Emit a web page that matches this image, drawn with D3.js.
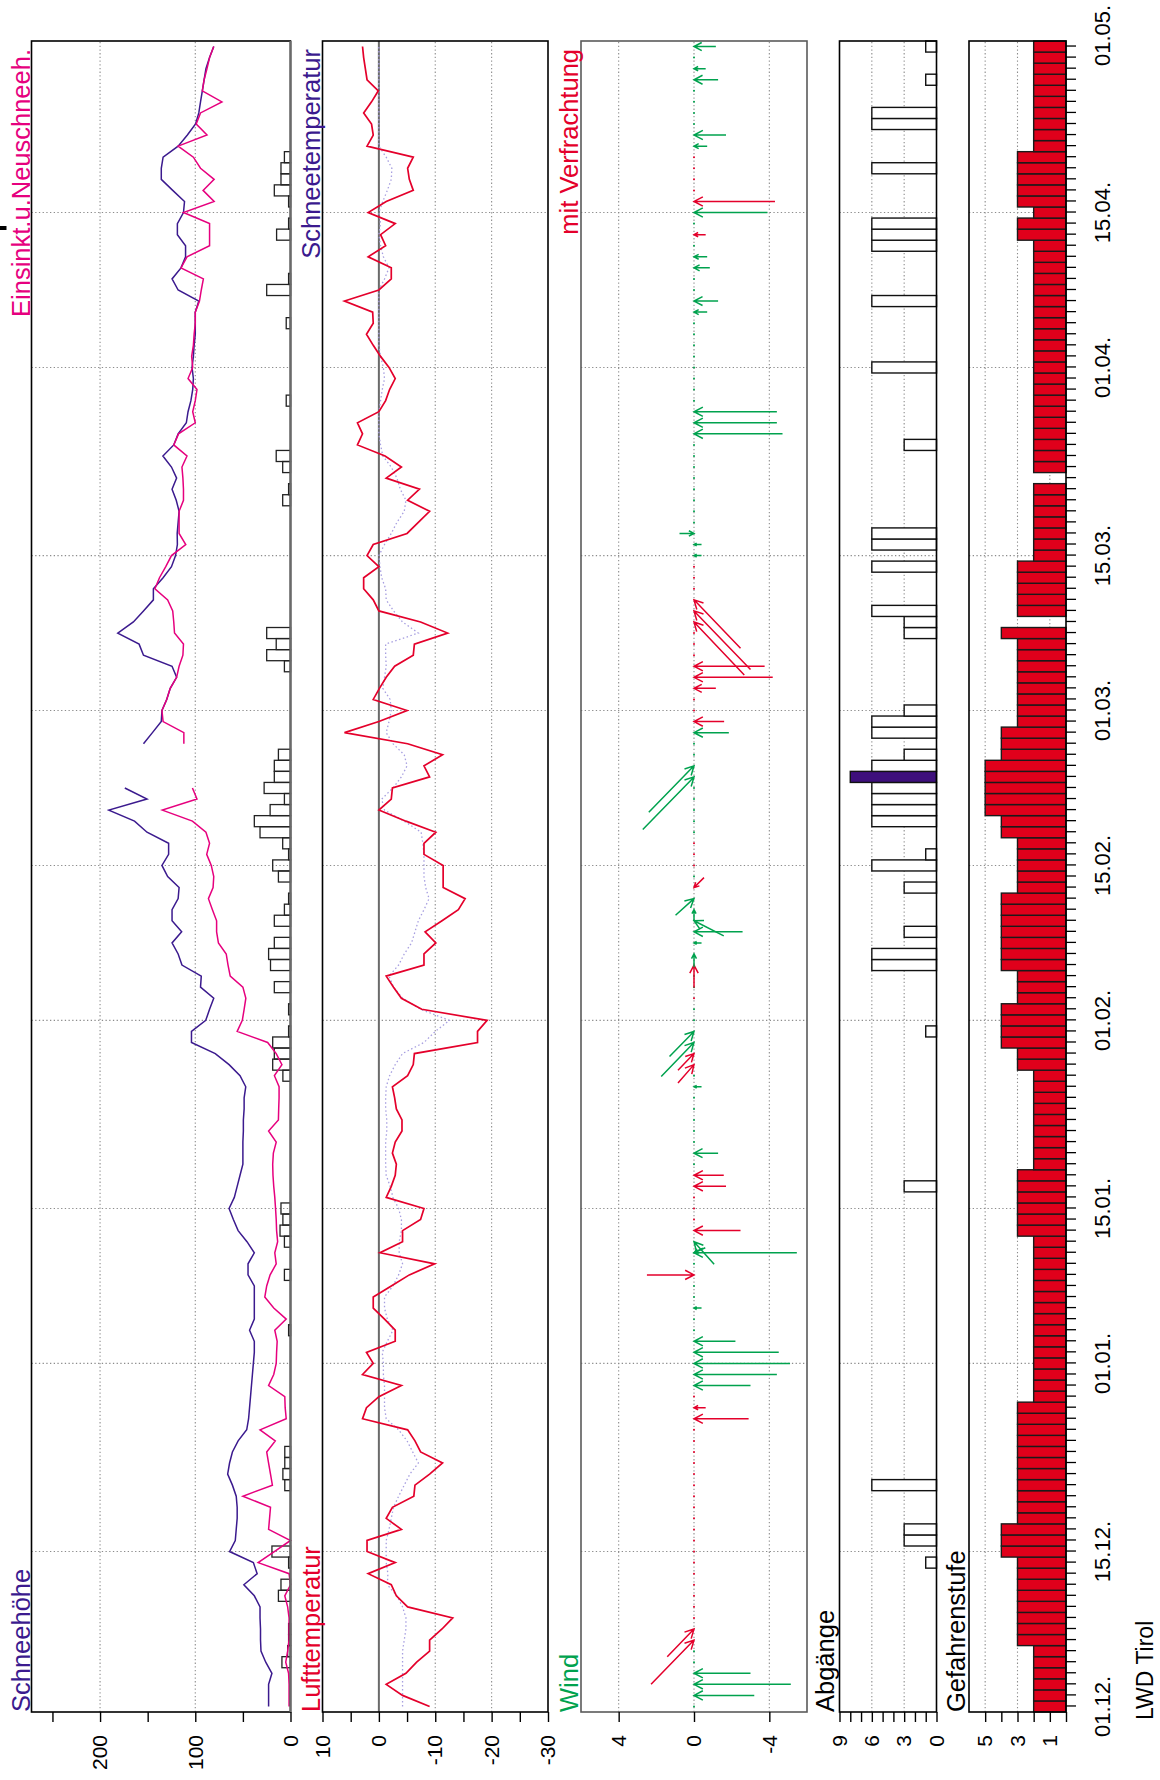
<!DOCTYPE html>
<html>
<head>
<meta charset="utf-8">
<title>LWD Tirol Saison</title>
<script src="https://cdn.jsdelivr.net/npm/d3@7/dist/d3.min.js"></script>
<style>
  body { margin: 0; background: #fff; }
  text { font-family: 'Liberation Sans', Arial, sans-serif; }
</style>
</head>
<body>
<svg width="1160" height="1780"></svg>
<script>
// --- Daten: ein Wert pro Tag, Index 0 = 01.12. bis 150 = 30.04.
const dateIdx    = [0, 14, 31, 45, 62, 76, 90, 104, 121, 135, 151];
const dateLabels = ['01.12.', '15.12.', '01.01.', '15.01.', '01.02.', '15.02.', '01.03.', '15.03.', '01.04.', '15.04.', '01.05.'];

// Schneehöhe (cm)
const snowDepth = [
  23,23,23,19.5,26,31,31.5,31.5,32,32, 38,49,35,39,64,58,57,56,56,57,
  61,66,64,61,55,46,44,43,42,41, 40,39,38,38,43,38,38,38,38,44.6,
  44.6,38,45.7,55,60,64.5,59,56,53,50, 50,50,49.5,49.5,48.7,48.7,47,53,64.5,79,
  104,104,89,85,80.6,94.5,93.7,114,118,124.4, 114.3,124.4,124.4,118,117,129,135,128,128,150.7,
  163.8,190.8,150.7,174,null,null,null,154.4,145,135.7, 135,130,126.3,119.6,124.4,154.4,159,181.4,165,154.4,
  144,144,133.8,125,120.7,118.8,119,118,117,120, 124.4,119.6,125,134,122.6,118,109.4,107.6,104.6,102.7,
  102,103.4,102,101.2,100,100,100,96.3,118,124.4, 115,110.2,110.2,118.8,118.8,112.4,111.3,123.7,135.7,135.7,
  133.8,118,108.3,99.7,96.3,94.5,92.6,90.7,88.8,85, 80.6
];
// Einsinktiefe (cm)
const sinkDepth = [
  1.5,1.5,1.5,2,5,3,1.5,1.5,1.5,3, 6,0,1.5,34,17,0,23,22,21,50,
  19,21,23,25,16,32,4.5,5.6,6,23, 17.6,15,14.6,14,16.5,4.5,17.6,27,25,21.4,
  15,16.5,13.5,14.6,15,15.7,16.5,17.6,18.4,18.7, 18,15,23,12.7,12.4,12,12,16.9,9,15,
  24,56,50.6,48.7,46.9,50,63.3,65.6,67.5,75.7, 77.6,77.6,82,86.2,81.3,80.6,83.2,88,85,88.8,
  103,134.6,98.2,103,null,null,null,112,112,133.8, 135,130,126.3,119.6,117,113,112.4,121.8,122.6,123.7,
  129,142.4,137.6,131,125,110,117,117,117,112.4, 112.4,113,114,108.7,122.6,117.6,100,102.7,100,98.2,
  107.6,102.7,103.8,102,101.2,100,100,95.6,93.7,91.5, 115,108.7,85,85,85,112.4,80.2,91.8,80.2,94.5,
  102,118,87.7,99,94.5,72,92.6,90.7,87.7,85, 80.6
];
// Neuschnee (cm)
const newSnow = [
  0,0,0,0,9,3,2,2,0,0, 12.7,10,0,2,19.5,0,0,0,0,0,
  6,8,6,6,0,0,0,0,0,0, 0,0,0,0,2,0,0,0,0,6.4,
  0,0,6.4,11,8,10,0,0,0,0, 0,0,0,0,0,0,0,8,18.7,17,
  18.7,2,0,2,0,17,0,21,23,17, 0,17,6.4,2,0,12.7,18.7,2,8.2,32,
  38,21.4,6.4,27.7,17,17,12.7,0,0,0, 0,0,0,0,6.4,25,15,25,0,0,
  0,0,0,0,0,0,0,0,0,8.2, 2,0,8.2,15,0,0,0,0,4.5,0,
  0,0,0,0,0,4.5,0,0,25,2, 0,0,0,14.6,2,0,2,17,10,10,
  6.4,0,0,0,0,0,0,0,0,0, 0
];
// Lufttemperatur (°C)
const airTemp = [
  -9,-4.2,-1.3,-4.8,-6.7,-9,-9,-11.2,-13.1,-5.1, -3.1,-2.2,1.9,-2.9,2.1,2.1,-4,-1.3,-2.4,-6.2,
  -6.4,-9,-11.3,-7.4,-6.4,-5.1,2.9,2.2,0,-4, 2.9,1,2.2,-2.9,-2.9,-1,1,1,-2.2,-5.4,
  -9.9,-0.2,-4.2,-4.2,-7.4,-8,-1.3,-2.2,-2.9,-3.1, -2.4,-2.9,-4.1,-4.1,-3.1,-2.8,-2.4,-5.1,-6.1,-6.3,
  -17.5,-17.5,-19.2,-7.6,-4,-2.6,-1.3,-8,-8,-10.1, -8.2,-11.2,-14.1,-15.3,-11.4,-11.4,-11.4,-8,-8,-10.1,
  -4.8,0,-2.2,-2.4,-9,-8,-11.3,-5.1,6.1,0, -5,1,-0.1,-1.3,-2.8,-6.1,-6.3,-12.2,-7.4,0,
  1,2.7,2.7,0,2.1,1,-5,-7,-9,-5.1, -7.2,-1.3,-4,-1.1,3.8,2.9,3.8,0,-1.2,-1.9,
  -2.9,-1.8,-0.3,1,2.2,1,1.1,6.1,0,-2.2, -2.2,1.9,-1.2,-0.3,-2.9,1.9,-1.3,-6.1,-5.4,-5.1,
  -6.1,2.1,1,1.3,2.7,1.3,0.1,2.1,2.4,2.7, 2.9
];
// Schneetemperatur (°C)
const snowTemp = [
  -4.2,-4.2,-4.2,-4.2,-4.2,-4.2,-4.5,-4.8,-4.8,-4.2, -3.2,-1.5,-1.6,-1.3,-1.3,-1.3,-1.8,-2.2,-2.6,-3.5,
  -4.5,-5.5,-7,-6,-5,-3.5,-1.3,-1,-1,-1, -0.8,-0.8,-0.6,-1.5,-2.5,-1.5,-1,-1,-2.5,-3.5,
  -4.2,-3.6,-3.6,-4,-4,-3.5,-2.5,-2,-1.3,-1.2, -1.2,-1.2,-1.4,-1.4,-1.2,-1.2,-1.3,-1.9,-2.9,-4.2,
  -8,-10,-12.5,-7.4,-4.2,-2.6,-1.8,-3.5,-4.5,-5.8, -6.4,-7,-8,-8.9,-8.3,-8,-8,-8,-7.8,-7.5,
  -4.5,-1,-0.5,-2.5,-4,-5,-4.5,-2.5,-1.3,-1.8, -2.2,-2,-0.7,-1,-1.3,-1.2,-1.2,-7,-4.2,-2.6,
  -1.3,-1.2,-0.5,-0.2,0,-1,-2.2,-3.2,-4.5,-4.8, -3.8,-3.2,-2.2,-0.7,-0.3,0,0,0,-0.3,-0.6,
  -1,-0.8,-0.3,0,0,0,0,0,0,-1, -1.8,-0.8,-0.3,0,-0.3,0,-0.7,-1.5,-2.2,-2.3,
  -1.3,0,0,0,0,0,0,0,0,0, 0
];
// Wind: Pfeilspitze am Tag, Ende um (Tage, Wert) versetzt; 'r' = mit Verfrachtung
const windDay  = [1,2,3,6,7,26,27,29,30,31,32,33,36,39,41,41,42,43,47,48,50,56,58,59,60,61,67,68,69,70,71,72,73,74,84,85,88,89,92,93,94,98,99,100,104,105,106,115,116,117,126,127,130,131,133,135,136,141,142,147,148,150];
const windDt   = [0,0,0,-4,-2.5,0,0,0,0,0,0,0,0,0,0,0.45,-2.05,0,0,0,0,0,-1.66,-1.5,-3.07,-2.26,-2.05,-1.2,0,0,-1.36,-1,-1.5,0.9,-4.76,-4.2,0,0,0,0,0,-4.8,-5.3,-4.37,0,0,0,0,0,0,0,0,0,0,0,0,0,0,0,0,0,0];
const windVal  = [-3.2,-5.14,-3,2.28,1.42,-2.9,-0.62,-3,-4.4,-5.1,-4.5,-2.2,-0.4,2.5,-5.46,-0.6,-1.07,-2.47,-1.7,-1.58,-1.28,-0.4,0.85,0.85,1.74,1.3,0,0,-0.4,-2.58,-1.58,0,0.98,-0.53,2.72,2.4,-1.85,-1.6,-1.16,-4.18,-3.75,-2.67,-3,-2.47,-0.4,-0.4,0.77,-4.7,-4.4,-4.4,-0.7,-1.28,-0.84,-0.7,-0.62,-3.9,-4.3,-0.7,-1.7,-1.28,-0.62,-1.16];
const windKind = ['g','g','g','r','r','r','r','g','g','g','g','g','g','r','g','g','g','r','r','r','g','g','r','r','g','g','r','g','g','g','g','g','g','r','g','g','g','r','r','r','r','r','r','r','g','g','g','g','g','g','g','g','g','g','r','g','r','g','g','g','g','g'];
// Tage ohne Wind mit Verfrachtung-Markierung
const calmRed = [8,9,10,11,12,13,14,15,16,17,18,19,20,21,22,23,24,25,28,44,45,46,64,76,77,78,90,91,95,96,97,101,102,103,137,138,139,140];

// Lawinenabgänge (Anzahl), ein Tag hervorgehoben
const avalanches = [
  0,0,0,0,0,0,0,0,0,0, 0,0,0,1,0,3,3,0,0,0,
  6,0,0,0,0,0,0,0,0,0, 0,0,0,0,0,0,0,0,0,0,
  0,0,0,0,0,0,0,3,0,0, 0,0,0,0,0,0,0,0,0,0,
  0,1,0,0,0,0,0,6,6,0, 3,0,0,0,3,0,6,1,0,0,
  6,6,6,6,8,6,3,0,6,6, 3,0,0,0,0,0,0,3,3,6,
  0,0,0,6,0,6,6,0,0,0, 0,0,0,0,3,0,0,0,0,0,
  0,6,0,0,0,0,0,6,0,0, 0,0,6,6,6,0,0,0,0,6,
  0,0,0,6,6,0,0,1,0,0, 1
];
const avalancheHighlight = [84];

// Gefahrenstufe
const danger = [
  2,2,2,2,2,2,3,3,3,3, 3,3,3,3,4,4,4,3,3,3,
  3,3,3,3,3,3,3,3,2,2, 2,2,2,2,2,2,2,2,2,2,
  2,2,2,3,3,3,3,3,3,2, 2,2,2,2,2,2,2,2,3,3,
  4,4,4,4,3,3,3,4,4,4, 4,4,4,4,3,3,3,3,3,4,
  4,5,5,5,5,5,4,4,4,3, 3,3,3,3,3,3,3,4,null,3,
  3,3,3,3,2,2,2,2,2,2, 2,null,2,2,2,2,2,2,2,2,
  2,2,2,2,2,2,2,2,2,2, 2,2,2,3,3,2,3,3,3,3,
  3,2,2,2,2,2,2,2,2,2, 2
];

// --- Farben
const purple = '#3b1a8e';
const pink   = '#e6007e';
const red    = '#e4002b';
const green  = '#00a24e';
const lavender = '#a79fe0';
const dangerRed = '#e0001b';

// --- Aufbau: gezeichnet quer (1780 x 1160), dann um -90° gedreht
const svg = d3.select('svg');
const W = 1780;
const g = svg.append('g').attr('transform', `translate(0,${W}) rotate(-90)`);

const x = d3.scaleLinear().domain([-0.5, 150.5]).range([68, 1739]);
const dayW = x(1) - x(0);
const ySnow = d3.scaleLinear().domain([0, 272]).range([290.5, 31.5]);
const yTemp = d3.scaleLinear().domain([-30, 10]).range([548, 322.5]);
const yWind = d3.scaleLinear().domain([-6, 6]).range([807, 581]);
const yAbg  = d3.scaleLinear().domain([0, 9]).range([936.5, 839.5]);
const yGef  = d3.scaleLinear().domain([0, 6]).range([1066, 969]);

const panels = [
  {y: ySnow, ticks: [0,50,100,150,200,250], labels: [0,100,200], grid: [100,200], box: '#000'},
  {y: yTemp, ticks: [10,5,0,-5,-10,-15,-20,-25,-30], labels: [10,0,-10,-20,-30], grid: [-10,-20], box: '#000'},
  {y: yWind, ticks: [4,0,-4], labels: [4,0,-4], grid: [4,0,-4], box: '#5a5a5a'},
  {y: yAbg,  ticks: d3.range(0, 10), labels: [9,6,3,0], grid: [6,3], box: '#000'},
  {y: yGef,  ticks: d3.range(0, 6), labels: [5,3,1], grid: [5,3,1], box: '#000'}
];

const gridDates = dateIdx.slice(1, -1);

// Gitter
panels.forEach(p => {
  const [bottom, top] = p.y.range();
  const gg = g.append('g')
    .attr('stroke', '#8c8c8c')
    .attr('stroke-width', 1.1)
    .attr('stroke-dasharray', '1.3,2.4');
  gg.selectAll('.vd').data(gridDates).enter().append('line')
    .attr('x1', d => x(d)).attr('x2', d => x(d))
    .attr('y1', top).attr('y2', bottom);
  gg.selectAll('.hv').data(p.grid).enter().append('line')
    .attr('x1', x.range()[0]).attr('x2', x.range()[1])
    .attr('y1', d => p.y(d)).attr('y2', d => p.y(d));
});

// Panel 1: Neuschnee-Balken, Einsinktiefe, Schneehöhe
const snowG = g.append('g');
newSnow.forEach((v, i) => {
  if (!v) return;
  snowG.append('rect')
    .attr('x', x(i - 0.5)).attr('width', dayW)
    .attr('y', ySnow(v)).attr('height', ySnow(0) - ySnow(v))
    .attr('fill', 'none').attr('stroke', '#222').attr('stroke-width', 1.3);
});

const lineOf = yScale => d3.line()
  .defined(d => d != null)
  .x((d, i) => x(i))
  .y(d => yScale(d));

snowG.append('path').datum(snowDepth)
  .attr('d', lineOf(ySnow))
  .attr('fill', 'none').attr('stroke', purple).attr('stroke-width', 1.5);
snowG.append('path').datum(sinkDepth)
  .attr('d', lineOf(ySnow))
  .attr('fill', 'none').attr('stroke', pink).attr('stroke-width', 1.5);

// Panel 2: Temperaturen
g.append('line')
  .attr('x1', x.range()[0]).attr('x2', x.range()[1])
  .attr('y1', yTemp(0)).attr('y2', yTemp(0))
  .attr('stroke', '#6a6a6a').attr('stroke-width', 2);
g.append('path').datum(snowTemp)
  .attr('d', lineOf(yTemp))
  .attr('fill', 'none').attr('stroke', lavender).attr('stroke-width', 1.3)
  .attr('stroke-dasharray', '1.5,2.5');
g.append('path').datum(airTemp)
  .attr('d', lineOf(yTemp))
  .attr('fill', 'none').attr('stroke', red).attr('stroke-width', 1.7);

// Panel 3: Wind
const windG = g.append('g');
d3.range(151).forEach(i => {
  if (windDay.includes(i)) return;
  windG.append('circle')
    .attr('cx', x(i)).attr('cy', yWind(0)).attr('r', 1)
    .attr('fill', calmRed.includes(i) ? red : green);
});
const headAng = Math.PI / 6.5;
windDay.forEach((day, k) => {
  const hx = x(day), hy = yWind(0);
  const tx = x(day + windDt[k]), ty = yWind(windVal[k]);
  const a = Math.atan2(hy - ty, hx - tx);
  const len = Math.hypot(hx - tx, hy - ty);
  const headLen = Math.min(10, len * 0.4);
  const p = d3.path();
  p.moveTo(tx, ty); p.lineTo(hx, hy);
  p.moveTo(hx - headLen * Math.cos(a - headAng), hy - headLen * Math.sin(a - headAng));
  p.lineTo(hx, hy);
  p.lineTo(hx - headLen * Math.cos(a + headAng), hy - headLen * Math.sin(a + headAng));
  windG.append('path').attr('d', p.toString())
    .attr('fill', 'none')
    .attr('stroke', windKind[k] === 'r' ? red : green)
    .attr('stroke-width', 1.5);
});

// Panel 4: Abgänge
avalanches.forEach((v, i) => {
  if (!v) return;
  g.append('rect')
    .attr('x', x(i - 0.5)).attr('width', dayW)
    .attr('y', yAbg(v)).attr('height', yAbg(0) - yAbg(v))
    .attr('fill', avalancheHighlight.includes(i) ? '#3e0f7c' : '#fff')
    .attr('stroke', '#111').attr('stroke-width', 1.4);
});

// Panel 5: Gefahrenstufe
danger.forEach((v, i) => {
  if (v == null) return;
  g.append('rect')
    .attr('x', x(i - 0.5)).attr('width', dayW)
    .attr('y', yGef(v)).attr('height', yGef(0) - yGef(v))
    .attr('fill', dangerRed)
    .attr('stroke', '#1a1a1a').attr('stroke-width', 1.4);
});

// Rahmen und Achsen
panels.forEach(p => {
  const [bottom, top] = p.y.range();
  g.append('rect')
    .attr('x', x.range()[0]).attr('y', top)
    .attr('width', x.range()[1] - x.range()[0]).attr('height', bottom - top)
    .attr('fill', 'none').attr('stroke', p.box).attr('stroke-width', 1.6);
  const ax = g.append('g')
    .attr('transform', `translate(${x.range()[0]},0)`)
    .call(d3.axisLeft(p.y)
      .tickValues(p.ticks)
      .tickSize(10)
      .tickPadding(13)
      .tickFormat(d => p.labels.includes(d) ? String(d) : ''));
  ax.select('.domain').remove();
  ax.selectAll('line').attr('stroke', '#000').attr('stroke-width', 1.4);
  ax.selectAll('text').attr('font-size', 21).attr('fill', '#000');
});

// Nulllinie Schneehöhe
g.append('line')
  .attr('x1', x.range()[0]).attr('x2', x.range()[1])
  .attr('y1', ySnow(0)).attr('y2', ySnow(0))
  .attr('stroke', '#6a6a6a').attr('stroke-width', 2.2);

// Datumsachse
const dAx = g.append('g')
  .attr('transform', `translate(0,${yGef(0)})`)
  .call(d3.axisBottom(x).tickValues(d3.range(151)).tickSize(10).tickFormat(''));
dAx.select('.domain').remove();
dAx.selectAll('line').attr('stroke', '#000').attr('stroke-width', 1.3);

g.selectAll('.datelab').data(dateIdx).enter().append('text')
  .attr('x', d => x(d)).attr('y', 1110)
  .attr('text-anchor', 'middle')
  .attr('font-size', 22)
  .text((d, k) => dateLabels[k]);

// Titel
const titles = [
  {t: 'Schneehöhe', y: 30, c: purple, a: 'start'},
  {t: 'Einsinkt.u.Neuschneeh.', y: 30, c: pink, a: 'end'},
  {t: 'Lufttemperatur', y: 320, c: red, a: 'start'},
  {t: 'Schneetemperatur', y: 320, c: purple, a: 'end'},
  {t: 'Wind', y: 578, c: green, a: 'start'},
  {t: 'mit Verfrachtung', y: 578, c: red, a: 'end'},
  {t: 'Abgänge', y: 834, c: '#000', a: 'start'},
  {t: 'Gefahrenstufe', y: 965, c: '#000', a: 'start'}
];
g.selectAll('.title').data(titles).enter().append('text')
  .attr('x', d => d.a === 'start' ? x.range()[0] : 1731)
  .attr('y', d => d.y)
  .attr('text-anchor', d => d.a)
  .attr('font-size', 25.5)
  .attr('fill', d => d.c)
  .text(d => d.t);

g.append('text')
  .attr('x', 60).attr('y', 1153)
  .attr('font-size', 23)
  .text('LWD Tirol');

g.append('rect')
  .attr('x', 1550).attr('y', 0).attr('width', 4).attr('height', 6.5)
  .attr('fill', '#000');
</script>
</body>
</html>
